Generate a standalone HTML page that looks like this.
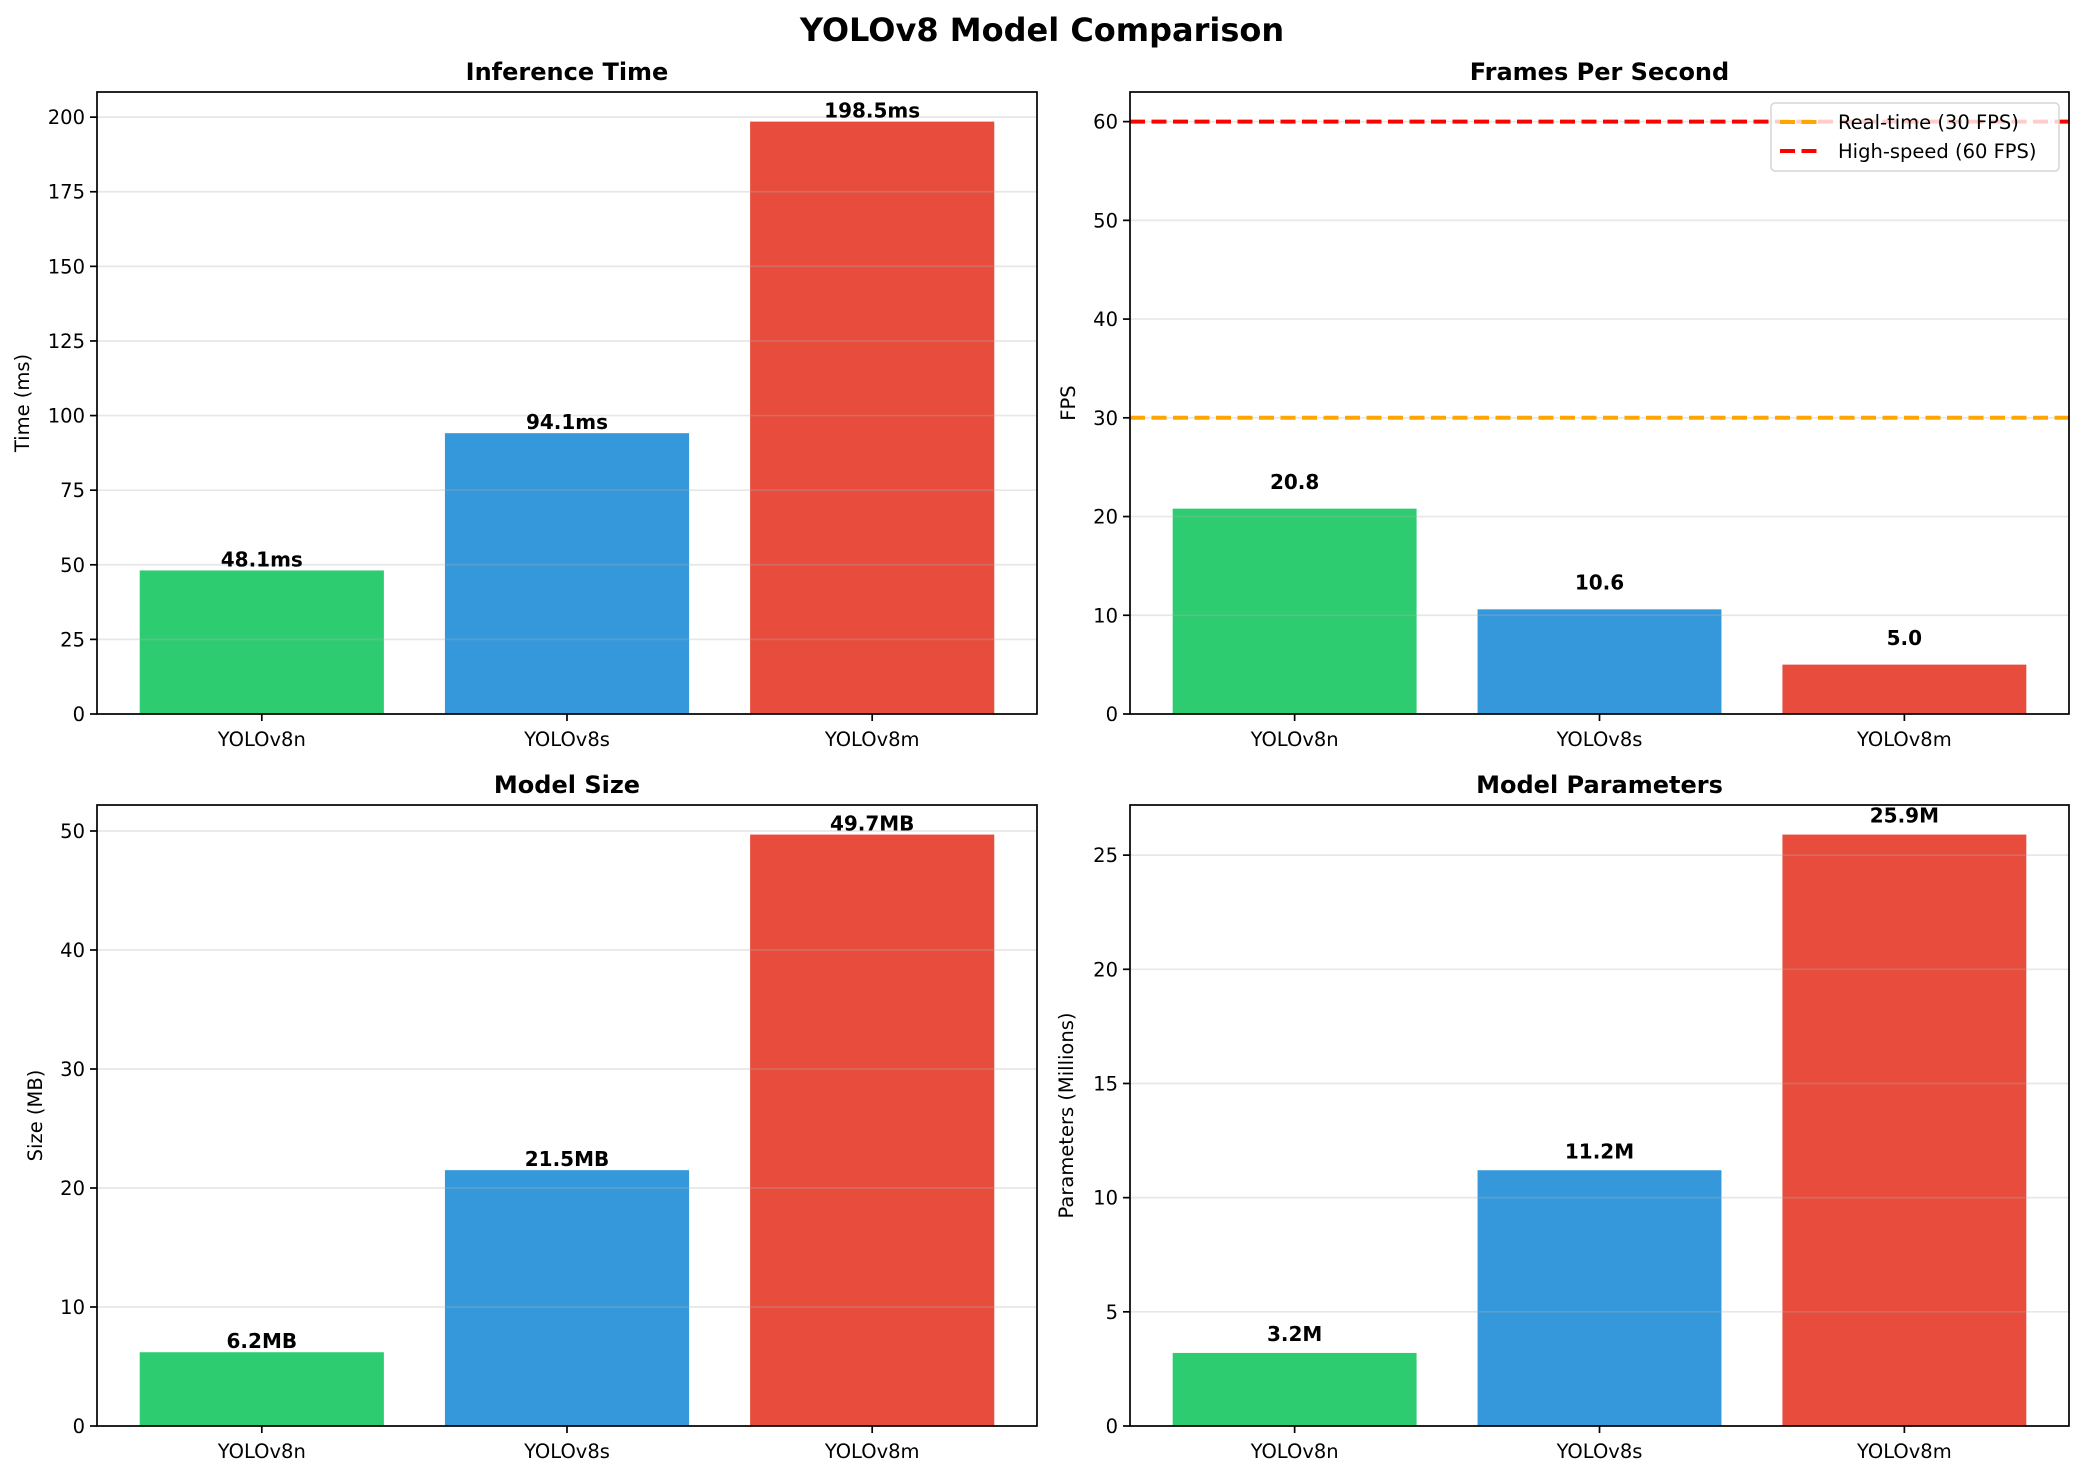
<!DOCTYPE html>
<html><head><meta charset="utf-8"><style>
html,body{margin:0;padding:0;background:#fff;}
svg{display:block;font-family:"DejaVu Sans","Liberation Sans",sans-serif;}
</style></head><body>
<svg id="fig" width="2084" height="1476" viewBox="0 0 2084 1476" xmlns="http://www.w3.org/2000/svg">
<rect width="2084" height="1476" fill="#fff"/>
<text x="1042" y="41" text-anchor="middle" font-size="32" font-weight="bold">YOLOv8 Model Comparison</text>
</svg>
<script>
const categories = ["YOLOv8n", "YOLOv8s", "YOLOv8m"];
const inferenceTime = [48.1, 94.1, 198.5];
const fpsValues = [20.8, 10.6, 5.0];
const modelSize = [6.2, 21.5, 49.7];
const modelParams = [3.2, 11.2, 25.9];
const timeTicks = [0, 25, 50, 75, 100, 125, 150, 175, 200];
const fpsTicks = [0, 10, 20, 30, 40, 50, 60];
const sizeTicks = [0, 10, 20, 30, 40, 50];
const paramTicks = [0, 5, 10, 15, 20, 25];
const fpsRefLines = [30, 60];
const fpsRefLabels = ["Real-time (30 FPS)", "High-speed (60 FPS)"];
const colors = ["#2ecc71", "#3498db", "#e74c3c"];

const NS = "http://www.w3.org/2000/svg";
const svg = document.getElementById("fig");
function mk(tag, attrs, parent) {
  const e = document.createElementNS(NS, tag);
  for (const k in attrs) e.setAttribute(k, attrs[k]);
  (parent || svg).appendChild(e);
  return e;
}

function panel(o) {
  const g = mk("g", {});
  
  
  const L = o.x0, R = o.x1, T = o.y0, B = o.y1;
  const ymax = Math.max(...o.vals) * 1.05;
  const yMax = o.ylimMax || ymax;
  const y = v => B - (v / yMax) * (B - T);
  const x = i => L + (i + 0.54) / 3.08 * (R - L);
  const unit = (R - L) / 3.08;
  o.vals.forEach((v, i) => {
    const r = mk("rect", {x: x(i) - 0.4 * unit, y: y(v), width: 0.8 * unit, height: B - y(v), fill: colors[i]}, g);
    
    
  });
  o.ticks.forEach(t => {
    const ln = mk("line", {x1: L, x2: R, y1: y(t), y2: y(t), stroke: "#b0b0b0", "stroke-opacity": 0.3, "stroke-width": 1.7}, g);
    
    
  });
  if (o.refs) {
    o.refs.forEach((rv, i) => {
      const ln = mk("line", {x1: L, x2: R, y1: y(rv), y2: y(rv), stroke: i === 0 ? "#ffa500" : "#ff0000", "stroke-width": 4, "stroke-dasharray": "15 6.5"}, g);
      
      
    });
  }
  o.vals.forEach((v, i) => {
    const t = mk("text", {x: x(i), y: y(v + o.off) - 4, "text-anchor": "middle", "font-size": 20, "font-weight": "bold"}, g);
    t.textContent = o.fmt(v);
    
    
  });
  const fr = mk("rect", {x: L, y: T, width: R - L, height: B - T, fill: "none", stroke: "#000", "stroke-width": 1.7}, g);
  
  
  o.ticks.forEach(t => {
    mk("line", {x1: L - 7, x2: L, y1: y(t), y2: y(t), stroke: "#000", "stroke-width": 1.7}, g);
    const tx = mk("text", {x: L - 12, y: y(t) + 7, "text-anchor": "end", "font-size": 19.5}, g);
    tx.textContent = t;
    
    
  });
  categories.forEach((c, i) => {
    mk("line", {x1: x(i), x2: x(i), y1: B, y2: B + 7, stroke: "#000", "stroke-width": 1.7}, g);
    const tx = mk("text", {x: x(i), y: B + 32, "text-anchor": "middle", "font-size": 19.5}, g);
    tx.textContent = c;
    
    
  });
  const ti = mk("text", {x: (L + R) / 2, y: T - 12, "text-anchor": "middle", "font-size": 24, "font-weight": "bold"}, g);
  ti.textContent = o.title;
  
  
  const yl = mk("text", {x: o.ylx, y: (T + B) / 2, "text-anchor": "middle", "font-size": 19.5, transform: "rotate(-90 " + o.ylx + " " + (T + B) / 2 + ")"}, g);
  yl.textContent = o.ylabel;
  
  
  if (o.refs) {
    const lg = mk("g", {}, g);
    
    
    mk("rect", {x: 1771, y: 103, width: 288, height: 68, rx: 4, fill: "#fff", "fill-opacity": 0.8, stroke: "#d6d6d6", "stroke-width": 1.5}, lg);
    fpsRefLabels.forEach((lab, i) => {
      const ly = 122 + i * 29;
      const e = mk("g", {}, lg);
      
      
      mk("line", {x1: 1780, x2: 1818, y1: ly, y2: ly, stroke: i === 0 ? "#ffa500" : "#ff0000", "stroke-width": 4, "stroke-dasharray": "15 6.5"}, e);
      const t = mk("text", {x: 1838, y: ly + 7, "font-size": 19.5}, e);
      t.textContent = lab;
    });
  }
}

panel({name: "inference-time-chart", x0: 97, x1: 1037, y0: 92, y1: 714, vals: inferenceTime, ticks: timeTicks, off: 0, fmt: v => v.toFixed(1) + "ms", title: "Inference Time", ylabel: "Time (ms)", ylx: 29});
panel({name: "fps-chart", x0: 1130, x1: 2069, y0: 92, y1: 714, vals: fpsValues, ticks: fpsTicks, off: 1.6, fmt: v => v.toFixed(1), title: "Frames Per Second", ylabel: "FPS", ylx: 1075, refs: fpsRefLines, ylimMax: Math.max(...fpsRefLines) * 1.05});
panel({name: "model-size-chart", x0: 97, x1: 1037, y0: 805, y1: 1426, vals: modelSize, ticks: sizeTicks, off: 0, fmt: v => v.toFixed(1) + "MB", title: "Model Size", ylabel: "Size (MB)", ylx: 42});
panel({name: "model-params-chart", x0: 1130, x1: 2069, y0: 805, y1: 1426, vals: modelParams, ticks: paramTicks, off: 0.35, fmt: v => v.toFixed(1) + "M", title: "Model Parameters", ylabel: "Parameters (Millions)", ylx: 1073});
</script>
</body></html>
